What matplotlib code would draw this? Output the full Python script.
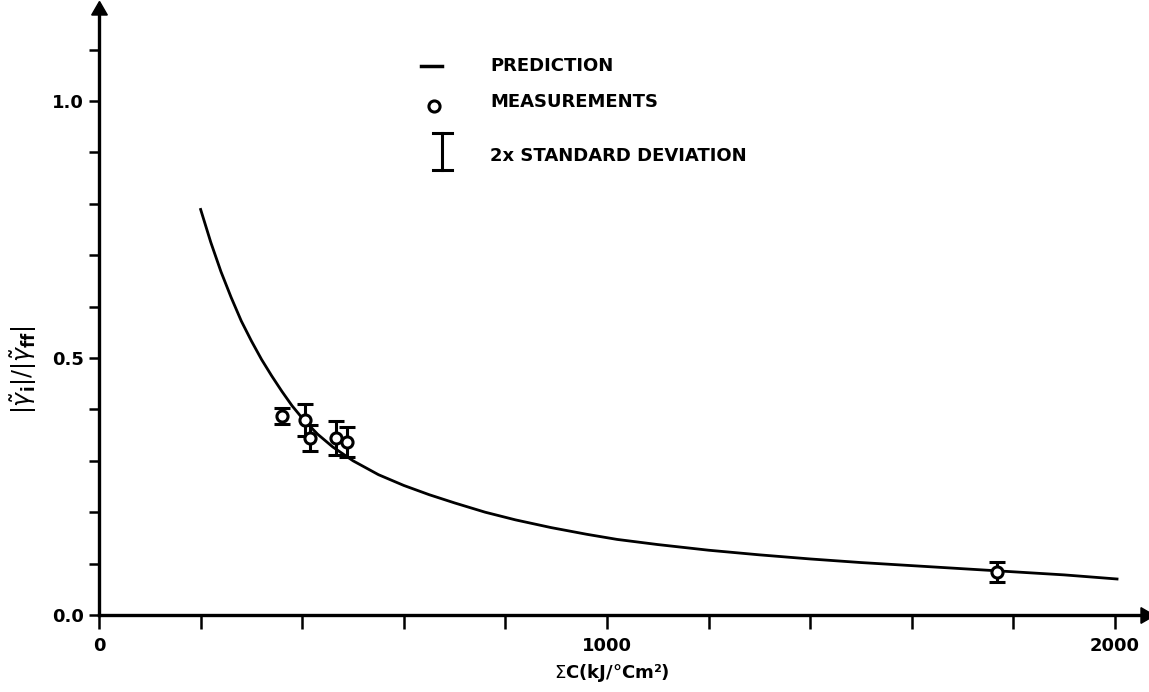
import numpy as np
from matplotlib import pyplot as plt
from matplotlib.ticker import MultipleLocator

# prediction curve
pred_x = [200, 220, 240, 260, 280, 300, 320, 340, 360, 380, 400, 430, 460, 500, 550, 600,
          650, 700, 760, 820, 890, 960, 1020, 1100, 1200, 1300, 1400, 1500, 1600, 1700,
          1800, 1900, 2004]
pred_y = [0.789, 0.725, 0.668, 0.618, 0.572, 0.533, 0.497, 0.465, 0.435, 0.407, 0.383,
          0.352, 0.327, 0.300, 0.273, 0.252, 0.234, 0.218, 0.200, 0.185, 0.170, 0.157,
          0.147, 0.137, 0.126, 0.117, 0.109, 0.102, 0.096, 0.090, 0.084, 0.078, 0.070]

# measurements with 2x standard deviation
meas_x = [360, 406, 416, 467, 488, 1767]
meas_y = [0.387, 0.379, 0.345, 0.344, 0.337, 0.084]
meas_err = [0.016, 0.031, 0.025, 0.033, 0.029, 0.019]

x_ticks = [0, 1000, 2000]
y_ticks = [0.0, 0.5, 1.0]

tick_font = ['Liberation Sans Narrow', 'DejaVu Sans']
text_font = ['DejaVu Sans']

fig = plt.figure(figsize=(11.49, 6.92), dpi=100)
ax = fig.add_axes([0.0862, 0.1113, 0.9103, 0.8742])

ax.plot(pred_x, pred_y, color='black', lw=2.0)
ax.errorbar(meas_x, meas_y, yerr=meas_err, fmt='o', ms=8, mfc='white', mec='black', mew=2.2,
            ecolor='black', elinewidth=2.2, capsize=6, capthick=2.2)

ax.set_xlim(0, 2059)
ax.set_ylim(0, 1.177)

for s in ['top', 'right']:
    ax.spines[s].set_visible(False)
for s in ['left', 'bottom']:
    ax.spines[s].set_linewidth(2.4)

# arrow heads on the axes
ax.plot(1, 0, marker=(3, 0, -90), ms=13, color='black', transform=ax.transAxes, clip_on=False)
ax.plot(0, 1, marker=(3, 0, 0), ms=13, color='black', transform=ax.transAxes, clip_on=False)

ax.set_xticks(x_ticks)
ax.set_yticks(y_ticks)
ax.xaxis.set_minor_locator(MultipleLocator(200))
ax.yaxis.set_minor_locator(MultipleLocator(0.1))
ax.tick_params(axis='x', which='both', direction='out', length=10, width=1.8, pad=6)
ax.tick_params(axis='y', which='both', direction='out', length=7, width=1.8, pad=4)
ax.set_xticklabels(['0', '1000', '2000'], fontsize=13, fontweight='bold', family=tick_font)
ax.set_yticklabels(['0.0', '0.5', '1.0'], fontsize=13, fontweight='bold', family=tick_font)

ax.set_xlabel(r'$\Sigma$C(kJ/°Cm²)', fontsize=13, family=tick_font, fontweight='bold')
ax.xaxis.set_label_coords(0.49, -0.078)
ax.set_ylabel(r'$|\tilde{\gamma}_{\mathbf{i}}|/|\tilde{\gamma}_{\mathbf{ff}}|$', fontsize=17,
              va='center')
ax.yaxis.set_label_coords(-0.072, 0.406)

# legend drawn by hand
ax.plot([0.308, 0.328], [0.907, 0.907], color='black', lw=2.5, transform=ax.transAxes)
ax.plot([0.320], [0.842], 'o', ms=8, mfc='white', mec='black', mew=2.2, transform=ax.transAxes)
ax.plot([0.328, 0.328], [0.735, 0.796], color='black', lw=2.2, transform=ax.transAxes)
ax.plot([0.319, 0.337], [0.735, 0.735], color='black', lw=2.2, transform=ax.transAxes)
ax.plot([0.319, 0.337], [0.796, 0.796], color='black', lw=2.2, transform=ax.transAxes)
ax.text(0.374, 0.907, 'PREDICTION', transform=ax.transAxes, va='center', fontsize=13,
        fontweight='bold', family=text_font)
ax.text(0.374, 0.848, 'MEASUREMENTS', transform=ax.transAxes, va='center', fontsize=13,
        fontweight='bold', family=text_font)
ax.text(0.374, 0.758, '2x STANDARD DEVIATION', transform=ax.transAxes, va='center', fontsize=13,
        fontweight='bold', family=text_font)

fig.savefig('out.png', dpi=100)
